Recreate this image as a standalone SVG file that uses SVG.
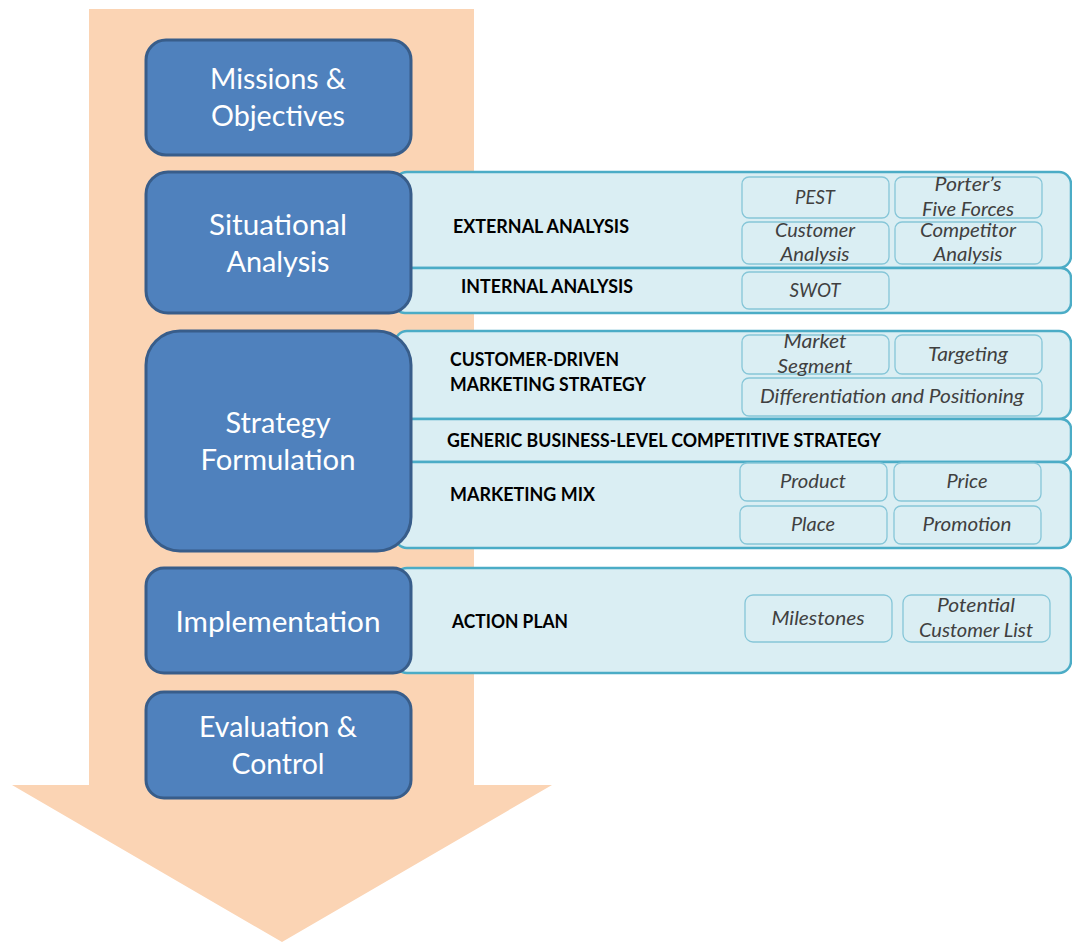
<svg xmlns="http://www.w3.org/2000/svg" width="1072" height="942" viewBox="0 0 1072 942">
<style>
.stage{fill:#4F81BD;stroke:#385D8A;stroke-width:3}
.stxt{font-family:Lato,"Liberation Sans",sans-serif;font-size:28px;fill:#FFFFFF;text-anchor:middle}
.panel{fill:#DAEEF3;stroke:#4BACC6;stroke-width:2.5}
.ptxt{font-family:Lato,"Liberation Sans",sans-serif;font-size:18px;font-weight:bold;fill:#000000}
.sub{fill:#DAEEF3;stroke:#86C6D8;stroke-width:1.3}
.subtxt{font-family:Lato,"Liberation Sans",sans-serif;font-size:19.5px;font-style:italic;fill:#404040;text-anchor:middle}
</style>
<rect width="1072" height="942" fill="#FFFFFF"/>
<g id="flow-arrow">
<polygon points="89,9 474,9 474,785 552,785 282,942 12,785 89,785" fill="#FBD4B4"/>
</g>
<g id="connectors"></g>
<g id="panels">
<g id="external-analysis">
<rect class="panel" x="395" y="172" width="676" height="96" rx="12"/>
<text class="ptxt" x="453" y="233" textLength="176" lengthAdjust="spacingAndGlyphs">EXTERNAL ANALYSIS</text>
</g>
<g id="internal-analysis">
<rect class="panel" x="395" y="268" width="676" height="45" rx="10"/>
<text class="ptxt" x="461" y="293" textLength="172" lengthAdjust="spacingAndGlyphs">INTERNAL ANALYSIS</text>
</g>
<g id="customer-driven">
<rect class="panel" x="395" y="331" width="676" height="88" rx="12"/>
<text class="ptxt" x="450" y="366" textLength="169" lengthAdjust="spacingAndGlyphs">CUSTOMER-DRIVEN</text>
<text class="ptxt" x="450" y="391" textLength="196" lengthAdjust="spacingAndGlyphs">MARKETING STRATEGY</text>
</g>
<g id="generic-strategy">
<rect class="panel" x="395" y="419" width="676" height="43" rx="10"/>
<text class="ptxt" x="447" y="447" textLength="434" lengthAdjust="spacingAndGlyphs">GENERIC BUSINESS-LEVEL COMPETITIVE STRATEGY</text>
</g>
<g id="marketing-mix">
<rect class="panel" x="395" y="462" width="676" height="86" rx="12"/>
<text class="ptxt" x="450" y="501" textLength="145" lengthAdjust="spacingAndGlyphs">MARKETING MIX</text>
</g>
<g id="action-plan">
<rect class="panel" x="395" y="568" width="676" height="105" rx="12"/>
<text class="ptxt" x="452" y="628" textLength="116" lengthAdjust="spacingAndGlyphs">ACTION PLAN</text>
</g>
</g>
<g id="stages">
<g id="missions">
<rect class="stage" x="146" y="40" width="265" height="115" rx="20"/>
<text class="stxt" x="278" y="89" textLength="136" lengthAdjust="spacingAndGlyphs">Missions &amp;</text>
<text class="stxt" x="278" y="126" textLength="134" lengthAdjust="spacingAndGlyphs">Objectives</text>
</g>
<g id="situational">
<rect class="stage" x="146" y="172" width="265" height="141" rx="22"/>
<text class="stxt" x="278" y="235" textLength="138" lengthAdjust="spacingAndGlyphs">Situational</text>
<text class="stxt" x="278" y="272" textLength="103" lengthAdjust="spacingAndGlyphs">Analysis</text>
</g>
<g id="strategy">
<rect class="stage" x="146" y="331" width="265" height="220" rx="34"/>
<text class="stxt" x="278" y="433" textLength="105" lengthAdjust="spacingAndGlyphs">Strategy</text>
<text class="stxt" x="278" y="470" textLength="155" lengthAdjust="spacingAndGlyphs">Formulation</text>
</g>
<g id="implementation">
<rect class="stage" x="146" y="568" width="265" height="105" rx="18"/>
<text class="stxt" x="278" y="632" textLength="205" lengthAdjust="spacingAndGlyphs">Implementation</text>
</g>
<g id="evaluation">
<rect class="stage" x="146" y="692" width="265" height="106" rx="18"/>
<text class="stxt" x="278" y="737" textLength="158" lengthAdjust="spacingAndGlyphs">Evaluation &amp;</text>
<text class="stxt" x="278" y="774" textLength="93" lengthAdjust="spacingAndGlyphs">Control</text>
</g>
</g>
<g id="items">
<g id="pest"><rect class="sub" x="742" y="177" width="147" height="41" rx="7"/><text class="subtxt" x="815" y="204" textLength="40" lengthAdjust="spacingAndGlyphs">PEST</text></g>
<g id="porter"><rect class="sub" x="895" y="177" width="147" height="41" rx="7"/><text class="subtxt" x="968" y="191" textLength="67" lengthAdjust="spacingAndGlyphs">Porter’s</text><text class="subtxt" x="968" y="216" textLength="92" lengthAdjust="spacingAndGlyphs">Five Forces</text></g>
<g id="customer-analysis"><rect class="sub" x="742" y="222" width="147" height="42" rx="7"/><text class="subtxt" x="815" y="237" textLength="80" lengthAdjust="spacingAndGlyphs">Customer</text><text class="subtxt" x="815" y="261" textLength="69" lengthAdjust="spacingAndGlyphs">Analysis</text></g>
<g id="competitor-analysis"><rect class="sub" x="895" y="222" width="147" height="42" rx="7"/><text class="subtxt" x="968" y="237" textLength="96" lengthAdjust="spacingAndGlyphs">Competitor</text><text class="subtxt" x="968" y="261" textLength="69" lengthAdjust="spacingAndGlyphs">Analysis</text></g>
<g id="swot"><rect class="sub" x="742" y="272" width="147" height="37" rx="7"/><text class="subtxt" x="815" y="297" textLength="51" lengthAdjust="spacingAndGlyphs">SWOT</text></g>
<g id="market-segment"><rect class="sub" x="742" y="335" width="147" height="39" rx="7"/><text class="subtxt" x="815" y="348" textLength="63" lengthAdjust="spacingAndGlyphs">Market</text><text class="subtxt" x="815" y="373" textLength="75" lengthAdjust="spacingAndGlyphs">Segment</text></g>
<g id="targeting"><rect class="sub" x="895" y="335" width="147" height="39" rx="7"/><text class="subtxt" x="968" y="361" textLength="80" lengthAdjust="spacingAndGlyphs">Targeting</text></g>
<g id="differentiation"><rect class="sub" x="742" y="378" width="300" height="38" rx="7"/><text class="subtxt" x="892" y="403" textLength="264" lengthAdjust="spacingAndGlyphs">Differentiation and Positioning</text></g>
<g id="product"><rect class="sub" x="740" y="463" width="147" height="38" rx="7"/><text class="subtxt" x="813" y="488" textLength="66" lengthAdjust="spacingAndGlyphs">Product</text></g>
<g id="price"><rect class="sub" x="894" y="463" width="147" height="38" rx="7"/><text class="subtxt" x="967" y="488" textLength="41" lengthAdjust="spacingAndGlyphs">Price</text></g>
<g id="place"><rect class="sub" x="740" y="506" width="147" height="38" rx="7"/><text class="subtxt" x="813" y="531" textLength="44" lengthAdjust="spacingAndGlyphs">Place</text></g>
<g id="promotion"><rect class="sub" x="894" y="506" width="147" height="38" rx="7"/><text class="subtxt" x="967" y="531" textLength="89" lengthAdjust="spacingAndGlyphs">Promotion</text></g>
<g id="milestones"><rect class="sub" x="745" y="595" width="147" height="47" rx="8"/><text class="subtxt" x="818" y="625" textLength="93" lengthAdjust="spacingAndGlyphs">Milestones</text></g>
<g id="potential-customers"><rect class="sub" x="903" y="595" width="147" height="47" rx="8"/><text class="subtxt" x="976" y="612" textLength="78" lengthAdjust="spacingAndGlyphs">Potential</text><text class="subtxt" x="976" y="637" textLength="114" lengthAdjust="spacingAndGlyphs">Customer List</text></g>
</g>
</svg>
